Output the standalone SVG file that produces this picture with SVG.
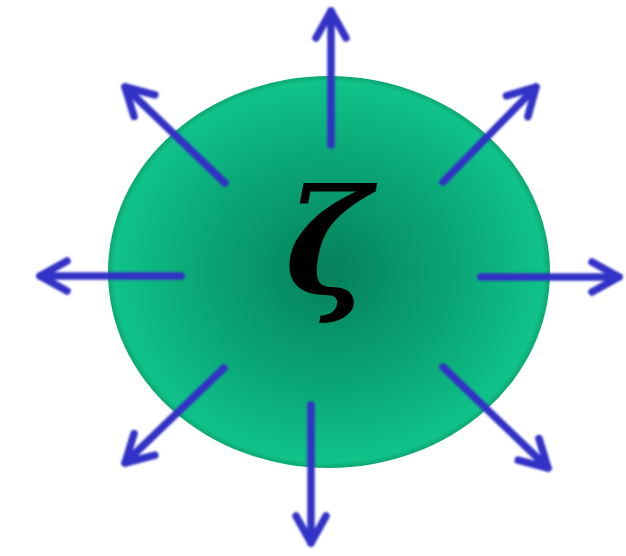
<svg xmlns="http://www.w3.org/2000/svg" width="626" height="556" viewBox="0 0 626 556">
<defs>
<radialGradient id="g" cx="0.5" cy="0.5" r="0.5">
<stop offset="0" stop-color="#06805a"/>
<stop offset="0.55" stop-color="#0aa474"/>
<stop offset="0.97" stop-color="#10c28a"/>
<stop offset="1" stop-color="#0ca66f"/>
</radialGradient>
<marker id="ah" markerUnits="userSpaceOnUse" markerWidth="60" markerHeight="60" viewBox="-40 -30 60 60" refX="0" refY="0" orient="auto">
<path d="M-27,-15 L0,0 L-27,15" fill="none" stroke="#3333c6" stroke-width="7.5" stroke-linecap="round" stroke-linejoin="round"/>
</marker>
<filter id="soft" x="-10%" y="-10%" width="120%" height="120%"><feGaussianBlur stdDeviation="0.8"/></filter>
</defs>
<style>
.arr{stroke:#3333c6;stroke-width:7.5;stroke-linecap:round;fill:none;marker-end:url(#ah)}
.z{font-family:"DejaVu Serif",serif;font-style:italic;font-weight:bold;font-size:145px;fill:#000}
</style>
<g id="blob">
<ellipse cx="329" cy="272" rx="221" ry="196" fill="url(#g)"/>
</g>
<g id="zeta">
<text class="z" x="328" y="293" text-anchor="middle">ζ</text>
</g>
<g id="connectors" filter="url(#soft)">
<line class="arr" x1="331" y1="145" x2="331" y2="11"/>
<line class="arr" x1="443" y1="182" x2="536" y2="87"/>
<line class="arr" x1="481" y1="277" x2="619" y2="277"/>
<line class="arr" x1="443" y1="367" x2="548" y2="468"/>
<line class="arr" x1="311" y1="405" x2="311" y2="543"/>
<line class="arr" x1="224" y1="368" x2="125" y2="463"/>
<line class="arr" x1="181" y1="276" x2="40" y2="276"/>
<line class="arr" x1="225" y1="183" x2="125" y2="87"/>
</g>
</svg>
